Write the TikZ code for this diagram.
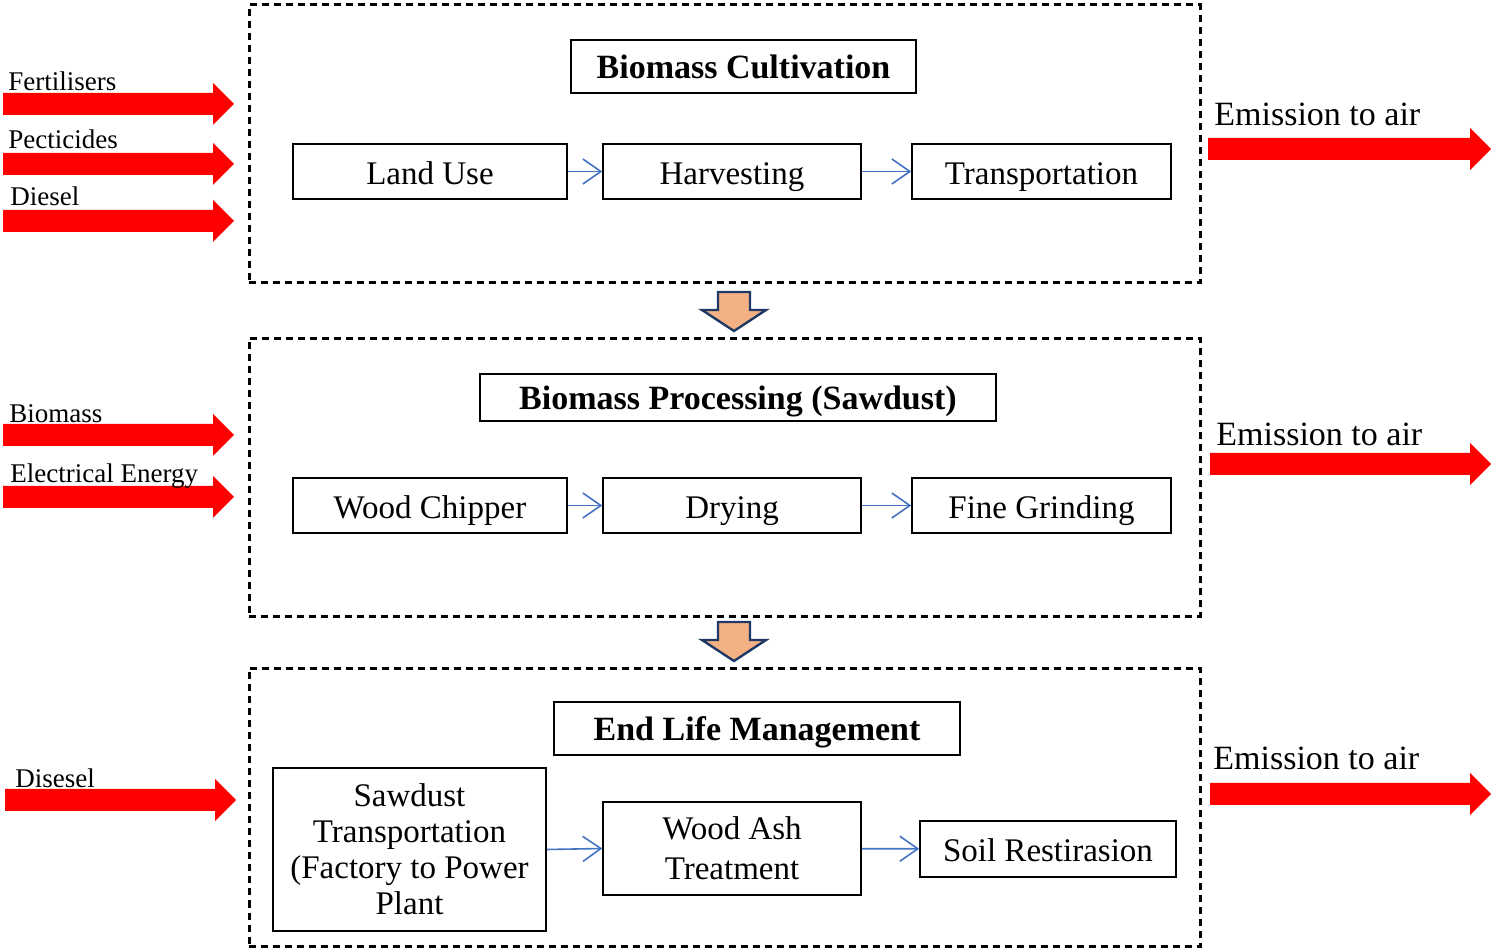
\documentclass[tikz,border=0pt]{standalone}
\usepackage{fontspec}
\setmainfont{Liberation Serif}
\usetikzlibrary{positioning,arrows.meta,calc}

\definecolor{flowblue}{RGB}{68,114,196}
\definecolor{downfill}{RGB}{244,177,131}
\definecolor{downedge}{RGB}{32,56,100}

\tikzset{
  stagebox/.style={draw,line width=1.5pt,dash pattern=on 3.5pt off 2.5pt,minimum width=475.5pt,minimum height=139pt,inner sep=0pt},
  titlebox/.style={draw,line width=0.75pt,font=\fontsize{17}{20}\selectfont\bfseries,inner sep=0pt,text height=13pt,text depth=0.5pt},
  stepbox/.style={draw,line width=0.75pt,font=\fontsize{16.5}{18}\selectfont,align=center,inner sep=0pt},
  oneline/.style={text height=14pt,text depth=1pt},
  flow/.style={flowblue,line width=0.8pt,-{Straight Barb[length=9pt,width=12.5pt,line width=0.8pt]}},
  inlabel/.style={anchor=base west,font=\fontsize{13.5}{15}\selectfont,inner sep=0pt},
  outlabel/.style={anchor=base west,font=\fontsize{17}{20}\selectfont,inner sep=0pt}
}

% fat red arrow from #1 to #2 (horizontal)
\newcommand{\redarrow}[2]{%
  \fill[red] ($(#1)+(0,-11)$) -- ($(#2)+(-21,-11)$) -- ($(#2)+(-21,-21)$) -- (#2)
    -- ($(#2)+(-21,21)$) -- ($(#2)+(-21,11)$) -- ($(#1)+(0,11)$) -- cycle;}
% block arrow pointing down, top centre at #1
\newcommand{\stagearrow}[1]{%
  \filldraw[fill=downfill,draw=downedge,line width=1.2pt,line join=miter]
    ($(#1)+(-16,0)$) -- ($(#1)+(16,0)$) -- ($(#1)+(16,18)$) -- ($(#1)+(32,18)$) -- ($(#1)+(0,39)$)
    -- ($(#1)+(-32,18)$) -- ($(#1)+(-16,18)$) -- cycle;}

\begin{document}
\begin{tikzpicture}[x=0.5pt,y=-0.5pt]
  \useasboundingbox (0,0) rectangle (1495,951);

  %---- stage 1
  \node[stagebox] (stage1) at (724.5,144) {};
  \node[titlebox,minimum width=172.5pt,minimum height=26.5pt] (title1) at (743.5,66.5) {Biomass Cultivation};
  \node[stepbox,oneline,minimum width=137pt,minimum height=27.5pt] (land) at (430,171.5) {Land Use};
  \node[stepbox,oneline,minimum width=129pt,minimum height=27.5pt] (harvest) at (732,171.5) {Harvesting};
  \node[stepbox,oneline,minimum width=129.5pt,minimum height=27.5pt] (transport) at (1041.5,171.5) {Transportation};
  \draw[flow] (land) -- (harvest);
  \draw[flow] (harvest) -- (transport);

  %---- stage 2
  \node[stagebox] (stage2) at (724.5,477.5) {};
  \node[titlebox,minimum width=258pt,minimum height=23.5pt] (title2) at (738,397.5) {Biomass Processing (Sawdust)};
  \node[stepbox,oneline,minimum width=137pt,minimum height=27.5pt] (chipper) at (430,505.5) {Wood Chipper};
  \node[stepbox,oneline,minimum width=129pt,minimum height=27.5pt] (drying) at (732,505.5) {Drying};
  \node[stepbox,oneline,minimum width=129.5pt,minimum height=27.5pt] (grinding) at (1041.5,505.5) {Fine Grinding};
  \draw[flow] (chipper) -- (drying);
  \draw[flow] (drying) -- (grinding);

  %---- stage 3
  \node[stagebox] (stage3) at (724.5,807.5) {};
  \node[titlebox,minimum width=203pt,minimum height=26.5pt] (title3) at (757,728.5) {End Life Management};
  \node[stepbox,minimum width=136.5pt,minimum height=81.5pt] (sawdust) at (409.5,849.5)
    {Sawdust\\Transportation\\(Factory to Power\\Plant};
  \node[stepbox,minimum width=129pt,minimum height=46.5pt,font=\fontsize{16.5}{20}\selectfont] (ash) at (732,848.5) {Wood Ash\\Treatment};
  \node[stepbox,oneline,minimum width=128pt,minimum height=28pt] (soil) at (1048,849) {Soil Restirasion};
  \draw[flow] (sawdust.east) -- (ash.west);
  \draw[flow] (ash) -- (soil);

  %---- block arrows between stages
  \stagearrow{734,292}
  \stagearrow{734,622}

  %---- inputs
  \coordinate (f0) at (3,104);    \coordinate (f1) at (234,104);
  \coordinate (p0) at (3,164);    \coordinate (p1) at (234,164);
  \coordinate (d0) at (3,221);    \coordinate (d1) at (234,221);
  \coordinate (b0) at (3,435);    \coordinate (b1) at (234,435);
  \coordinate (e0) at (3,497);    \coordinate (e1) at (234,497);
  \coordinate (s0) at (5,800);    \coordinate (s1) at (236,800);
  \redarrow{f0}{f1} \redarrow{p0}{p1} \redarrow{d0}{d1}
  \redarrow{b0}{b1} \redarrow{e0}{e1} \redarrow{s0}{s1}
  \node[inlabel] (fert) at (8,91) {Fertilisers};
  \node[inlabel] (pest) at (8,149) {Pecticides};
  \node[inlabel] (dies) at (10,206) {Diesel};
  \node[inlabel] (biom) at (9,423) {Biomass};
  \node[inlabel] (elec) at (10,483) {Electrical Energy};
  \node[inlabel] (dise) at (15,788) {Disesel};

  %---- outputs
  \coordinate (o10) at (1208,149);  \coordinate (o11) at (1491,149);
  \coordinate (o20) at (1210,464);  \coordinate (o21) at (1491,464);
  \coordinate (o30) at (1210,794);  \coordinate (o31) at (1491,794);
  \redarrow{o10}{o11} \redarrow{o20}{o21} \redarrow{o30}{o31}
  \node[outlabel] (em1) at (1214,126) {Emission to air};
  \node[outlabel] (em2) at (1216,446) {Emission to air};
  \node[outlabel] (em3) at (1213,770) {Emission to air};
\end{tikzpicture}
\end{document}
